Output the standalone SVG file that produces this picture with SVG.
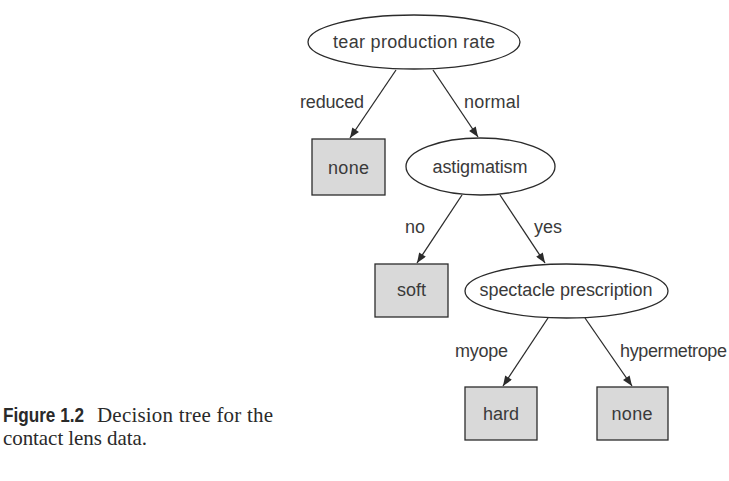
<svg xmlns="http://www.w3.org/2000/svg" width="729" height="481" viewBox="0 0 729 481">
<defs>
<style>
.bg{fill:#ffffff}
.ell{fill:#ffffff;stroke:#2b2b2b;stroke-width:1.3}
.box{fill:#d9d9d9;stroke:#2b2b2b;stroke-width:1.3}
.lbl{font-family:"Liberation Sans","Noto Sans",Arial,sans-serif;font-size:18px;fill:#3a3a3a}
.mid{text-anchor:middle}
.edge{stroke:#2b2b2b;stroke-width:1.3;fill:none;marker-end:url(#arr)}
.cap{font-family:"Liberation Serif","Times New Roman",serif;font-size:21px;fill:#2a2a2a}
.capb{font-family:"Liberation Sans",Arial,sans-serif;font-size:19.5px;font-weight:bold;fill:#2a2a2a}
</style>
<marker id="arr" viewBox="0 0 10 8" refX="10" refY="4" markerWidth="11" markerHeight="8" markerUnits="userSpaceOnUse" orient="auto">
<path d="M0,0 L10,4 L0,8 z" fill="#2b2b2b"/>
</marker>
</defs>
<rect class="bg" x="0" y="0" width="729" height="481"/>

<g id="connectors">
<line class="edge" x1="396" y1="70" x2="350" y2="138"/>
<line class="edge" x1="433" y1="70" x2="478" y2="137"/>
<line class="edge" x1="462" y1="195" x2="417" y2="263"/>
<line class="edge" x1="500" y1="195" x2="545" y2="263"/>
<line class="edge" x1="548" y1="318" x2="503" y2="386"/>
<line class="edge" x1="585" y1="318" x2="632" y2="386"/>
<text class="lbl" x="300" y="108" textLength="64">reduced</text>
<text class="lbl" x="464" y="108" textLength="56">normal</text>
<text class="lbl" x="405" y="233">no</text>
<text class="lbl" x="534" y="233">yes</text>
<text class="lbl" x="455" y="357" textLength="53">myope</text>
<text class="lbl" x="620" y="357" textLength="107">hypermetrope</text>
</g>

<g id="node-tear">
<ellipse class="ell" cx="414" cy="42" rx="106" ry="27"/>
<text class="lbl mid" x="414" y="48" textLength="162">tear production rate</text>
</g>

<g id="node-none1">
<rect class="box" x="312" y="139" width="73" height="56"/>
<text class="lbl mid" x="348.5" y="174" textLength="41">none</text>
</g>

<g id="node-astig">
<ellipse class="ell" cx="480.5" cy="166.5" rx="74.5" ry="28.5"/>
<text class="lbl mid" x="480" y="173" textLength="95">astigmatism</text>
</g>

<g id="node-soft">
<rect class="box" x="375" y="264" width="73" height="53"/>
<text class="lbl mid" x="411.5" y="296">soft</text>
</g>

<g id="node-spectacle">
<ellipse class="ell" cx="566.5" cy="291" rx="101.5" ry="27"/>
<text class="lbl mid" x="566" y="296" textLength="173">spectacle prescription</text>
</g>

<g id="node-hard">
<rect class="box" x="465" y="387" width="72" height="53"/>
<text class="lbl mid" x="501" y="420">hard</text>
</g>

<g id="node-none2">
<rect class="box" x="597" y="387" width="71" height="53"/>
<text class="lbl mid" x="632" y="420" textLength="41">none</text>
</g>

<g id="caption">
<text class="capb" transform="translate(3,422) scale(0.88,1)">Figure 1.2</text>
<text class="cap" x="97" y="422" textLength="176">Decision tree for the</text>
<text class="cap" x="3" y="445" textLength="144">contact lens data.</text>
</g>
</svg>
